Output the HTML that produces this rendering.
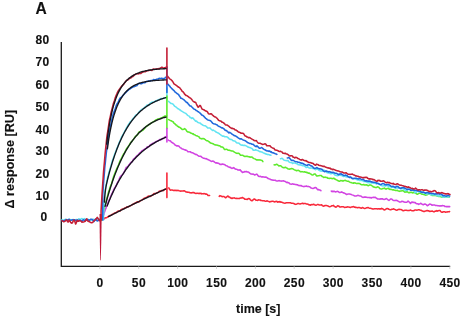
<!DOCTYPE html>
<html><head><meta charset="utf-8"><style>
html,body{margin:0;padding:0;background:#fff;}
svg{display:block;}
text{font-family:"Liberation Sans",Arial,sans-serif;font-weight:bold;fill:#111;stroke:#111;stroke-width:0.12px;}
</style></head><body>
<svg width="463" height="321" viewBox="0 0 463 321">
<rect width="463" height="321" fill="#fff"/>
<text x="35.6" y="13.6" font-size="15.6">A</text>
<g font-size="12" letter-spacing="0.4"><text x="49.7" y="44.10" text-anchor="end">80</text><text x="49.7" y="65.80" text-anchor="end">70</text><text x="49.7" y="88.50" text-anchor="end">60</text><text x="49.7" y="110.50" text-anchor="end">50</text><text x="49.7" y="133.50" text-anchor="end">40</text><text x="49.7" y="155.20" text-anchor="end">30</text><text x="49.7" y="178.05" text-anchor="end">20</text><text x="49.7" y="199.90" text-anchor="end">10</text><text x="47.7" y="221.45" text-anchor="end">0</text><text x="100.0" y="287" text-anchor="middle">0</text><text x="138.9" y="287" text-anchor="middle">50</text><text x="177.8" y="287" text-anchor="middle">100</text><text x="216.7" y="287" text-anchor="middle">150</text><text x="255.6" y="287" text-anchor="middle">200</text><text x="294.4" y="287" text-anchor="middle">250</text><text x="333.3" y="287" text-anchor="middle">300</text><text x="372.2" y="287" text-anchor="middle">350</text><text x="411.1" y="287" text-anchor="middle">400</text><text x="450.0" y="287" text-anchor="middle">450</text></g>
<text x="236" y="313.2" font-size="12.5">time [s]</text>
<text transform="translate(14.2 208.5) rotate(-90)" font-size="12.6">&#916; response [RU]</text>
<g stroke="#1a1a1a" stroke-width="1.3" fill="none"><path d="M61.3 42V266.3H450.2"/></g>
<g stroke="#bbb" stroke-width="0.6"><path d="M99.8 266V269"/><path d="M138.7 266V269"/><path d="M177.6 266V269"/><path d="M216.5 266V269"/><path d="M255.4 266V269"/><path d="M294.2 266V269"/><path d="M333.1 266V269"/><path d="M372.0 266V269"/><path d="M410.9 266V269"/><path d="M449.8 266V269"/></g>
<g stroke-linejoin="round" stroke-linecap="round">
<path d="M62 219.61L62.8 220.09L63.6 220.51L64.4 219.85L65.2 219.31L66 219.31L66.8 219.61L67.6 219.78L68.4 219.84L69.2 219.21L70 219.5L70.8 220.12L71.6 219.81L72.4 219.79L73.2 219.42L74 219.63L74.8 220.06L75.6 219.82L76.4 219.47L77.2 219.79L78 219.53L78.8 218.76L79.6 219.2L80.4 219.5L81.2 218.68L82 218.63L82.8 219.15L83.6 219.01L84.4 218.65L85.2 219.09L86 219.93L86.8 219.83L87.6 219.25L88.4 219.47L89.2 219.99L90 219.75L90.8 219.69L91.6 220.16L92.4 219.9L93.2 219.24L94 219.44L94.8 219.81L95.6 220.08L96.4 219.53L97.2 218.91L98 219.07L98.8 218.69L99.6 219.03L100.4 219.83L101.2 219.53" stroke="#62e4f2" stroke-width="1.55" fill="none"/>
<path d="M62 220.59L62.8 220.94L63.6 220.61L64.4 220.44L65.2 220.58L66 219.84L66.8 219.7L67.6 220.52L68.4 219.51L69.2 219.4L70 220.04L70.8 220.23L71.6 220.15L72.4 219.81L73.2 220.14L74 219.77L74.8 219.88L75.6 220.21L76.4 220.16L77.2 219.99L78 220.24L78.8 220.72L79.6 220.18L80.4 220.19L81.2 220.8L82 221.29L82.8 220.09L83.6 219.71L84.4 220.57L85.2 220.16L86 219.53L86.8 220.11L87.6 220L88.4 219.71L89.2 220.79L90 219.87L90.8 219.19L91.6 219.32L92.4 219.55L93.2 220.75L94 221.5L94.8 220.1L95.6 219L96.4 220.05L97.2 220.97L98 220.85L98.8 219.86L99.6 219.81L100.4 220.12L101.2 219.91" stroke="#2068dc" stroke-width="1.55" fill="none"/>
<path d="M62 220.78L62.8 221.05L63.6 221.79L64.4 221.45L65.2 221.08L66 220.23L66.8 220.05L67.6 221.81L68.4 222.02L69.2 220.15L70 221.23L70.8 222.62L71.6 223.17L72.4 222.83L73.2 221.02L74 219.95L74.8 221.21L75.6 224.05L76.4 222.54L77.2 220.26L78 221.26L78.8 221.13L79.6 220.52L80.4 220.86L81.2 221.19L82 222.21L82.8 222.09L83.6 221.97L84.4 221.65L85.2 221.23L86 220.02L86.8 218.76L87.6 220.84L88.4 221.45L89.2 221.29L90 222.09L90.8 222.62L91.6 222.81L92.4 222.59L93.2 221.94L94 220.7L94.8 220.13L95.6 219.75L96.4 218.41L97.2 217.41L98 218.31L98.8 219.97L99.6 220.74L100.4 219.6L101.2 219.88" stroke="#c41e36" stroke-width="1.55" fill="none"/>
<path d="M101.99 220L102 219.75L102.2 219.65L102.4 219.54L102.6 219.44L102.8 219.34L103 219.23L103.2 219.13L103.4 219.02L103.6 218.92L103.8 218.82L104 218.92L104.2 218.86L104.4 218.78L104.6 218.59L104.8 218.4L105 217.87L105.2 217.68L105.4 217.77L105.6 217.74L105.8 217.7L106 217.72L106.5 217.78L107 217.45L107.5 217.07L108 216.76L108.5 216.31L109 215.99L109.5 215.73L110 215.61L110.5 215.48L111 215.27L111.5 214.69L112 214.51L112.8 214.24L113.6 213.44L114.4 213.17L115.2 212.81L116 212.53L116.8 212.12L117.6 211.38L118.4 210.92L119.2 211.1L120 210.92L120.8 209.91L121.6 209.5L122.4 209.01L123.2 209.05L124 208.67L124.8 207.94L125.6 208.06L126.4 207.19L127.2 206.74L128 206.95L128.8 206.6L129.6 206.02L130.4 205.75L131.2 205.34L132 204.79L132.8 204.33L133.6 204.02L134.4 203.43L135.2 203.08L136 202.8L136.8 201.95L137.6 201.78L138.4 202.08L139.2 201.85L140 200.92L140.8 200.47L141.6 200.1L142.4 199.52L143.2 199.27L144 198.35L144.8 197.99L145.6 197.93L146.4 197.34L147.2 196.85L148 196.27L148.8 196.02L149.6 196.23L150.4 196.5L151.2 195.91L152 195.4L152.8 194.96L153.6 193.85L154.4 193.58L155.2 193.79L156 193.28L156.8 192.87L157.6 192.75L158.4 192.09L159.2 191.22L160 191.01L160.8 190.95L161.6 190.56L162.4 190.49L163.2 190.64L164 189.92L164.8 189.31L165.6 189.28L166.4 188.92L166.6 188.85" stroke="#f8283a" stroke-width="1.55" fill="none"/>
<path d="M168.8 187.87L169.6 189.37L170.4 190.16L171.2 190.08L172 189.89L172.8 190.16L173.6 190.54L174.4 190.36L175.2 190.55L176 190.25L176.8 190.65L177.6 190.36L178.4 190.49L179.2 190.79L180 191L180.8 191.12L181.6 191.08L182.4 190.99L183.2 190.91L184 190.69L184.8 190.98L185.6 191.75L186.4 192.08L187.2 192.14L188 192.21L188.8 192.22L189.6 192.62L190.4 192.65L191.2 192.89L192 192.83L192.8 192.62L193.6 192.47L194.4 192.83L195.2 193.3L196 193.52L196.8 193.32L197.6 193.21L198.4 193.46L199.2 193.3L200 193.6L200.8 193.22L201.6 193.85L202.4 193.74L203.2 193.85L204 193.54L204.8 193.68L205.6 194.23L206.4 194.09L207.2 194.39L208 195.4L208.8 195.46L209.6 195.54" stroke="#f8283a" stroke-width="1.55" fill="none"/>
<path d="M219.2 196.33L220 195.65L220.8 195.93L221.6 196.48L222.4 196.62L223.2 196.52L224 196.45L224.8 197.2L225.6 197.81L226.4 197.13L227.2 196.49L228 196.03L228.8 197L229.6 197.08L230.4 197.9L231.2 198.07L232 198.43L232.8 198.07L233.6 197.9L234.4 197.85L235.2 198.22L236 198.46L236.8 198.36L237.6 198.44L238.4 198.44L239.2 198.6L240 198.14L240.8 198.03L241.6 197.97L242.4 197.53L243.2 198.03L244 198.42L244.8 199.18L245.6 199.27L246.4 199.32L247.2 199.55L248 198.72L248.8 198.62L249.6 198.74L250.4 199.89L251.2 200.5L252 200.82L252.8 200.18L253.6 199.21L254.4 199.06L255.2 199.45L256 200.35L256.8 200.25L257.6 200.37L258.4 199.81L259.2 200.04L260 199.94L260.8 200.5L261.6 200.58L262.4 200.74L263.2 200.8L264 200.75L264.8 201.06L265.6 201.18L266.4 201.11L267.2 200.84L268 201.23L268.8 201.42L269.6 201.91L270.4 201.63L271.2 201.58L272 201.2L272.8 201.2L273.6 201.48L274.4 201.91L275.2 201.62L276 201.47L276.8 201.36L277.6 202.17L278.4 201.78L279.2 201.99L280 201.5L280.8 202.3L281.6 202.12L282.4 202.43L283.2 202.79L284 203.08L284.8 203.16L285.6 202.92L286.4 202.7L287.2 202.79L288 202.71L288.8 202.76L289.6 202.67L290.4 202.73L291.2 203.2L292 203.27L292.8 203.25L293.6 203.5L294.4 203.83L295.2 204.36L296 204.21L296.8 203.99L297.6 203.61L298.4 203.44L299.2 203.78L300 203.98L300.8 203.73L301.6 203.53L302.4 203.2L303.2 203.69L304 203.45L304.8 203.55L305.6 203.6L306.4 203.95L307.2 203.91L308 204.13L308.8 204.77L309.6 204.88L310.4 205.21L311.2 204.53L312 204.85L312.8 204.39L313.6 204.25L314.4 204.77L315.2 205L316 205.24L316.8 204.89L317.6 204.42L318.4 204.59L319.2 204.96L320 204.96L320.8 204.99L321.6 204.85L322.4 205.62L323.2 206.14L324 206.04L324.8 205.63L325.6 205.45L326.4 205.53L327.2 205.69L328 205.91L328.8 206.5L329.6 206.7L330.4 206.42L331.2 206.19L332 205.68L332.8 205.78L333.6 205.4L334.4 206.57L335.2 206.81L336 207.18L336.8 206.56L337.6 205.77L338.4 205.97L339.2 206.49L340 207.01L340.8 207.05L341.6 206.86L342.4 206.7L343.2 206.82L344 207.03L344.8 207.54L345.6 207.33L346.4 207.23L347.2 206.82L348 206.91L348.8 207.03L349.6 207.16L350.4 207.44L351.2 207.1L352 206.93L352.8 206.7L353.6 206.6L354.4 207.27L355.2 207.04L356 207.61L356.8 207.38L357.6 207.83L358.4 207.45L359.2 207.6L360 207.86L360.8 208.12L361.6 208.15L362.4 207.56L363.2 207.85L364 208.18L364.8 208.47L365.6 208.28L366.4 207.86L367.2 207.73L368 207.49L368.8 207.9L369.6 208.28L370.4 208.35L371.2 208.49L372 208.66L372.8 208.94L373.6 209.06L374.4 208.82L375.2 208.79L376 208.69L376.8 208.8L377.6 209.07L378.4 208.67L379.2 209.09L380 208.72L380.8 209.04L381.6 208.36L382.4 208.76L383.2 209.17L384 209.85L384.8 209.95L385.6 209.25L386.4 208.81L387.2 208.51L388 208.72L388.8 209.25L389.6 209.46L390.4 209.73L391.2 209.61L392 209.35L392.8 209.16L393.6 208.84L394.4 209.26L395.2 209.62L396 210.04L396.8 210.23L397.6 209.82L398.4 209.57L399.2 209.36L400 209.4L400.8 209.45L401.6 209.71L402.4 210.38L403.2 210.84L404 210.62L404.8 210.32L405.6 210.35L406.4 210.28L407.2 210.46L408 210.56L408.8 210.6L409.6 210.39L410.4 210.07L411.2 210.36L412 210.68L412.8 210.76L413.6 210.78L414.4 210.27L415.2 210.05L416 209.98L416.8 210.19L417.6 210.09L418.4 209.77L419.2 209.81L420 210.15L420.8 210.23L421.6 210.56L422.4 211.08L423.2 211.34L424 211.64L424.8 211.31L425.6 211.09L426.4 210.73L427.2 210.43L428 210.95L428.8 210.75L429.6 211.38L430.4 211.36L431.2 211.17L432 211.06L432.8 211.35L433.6 211.7L434.4 211.78L435.2 210.94L436 211.24L436.8 210.59L437.6 211.21L438.4 210.71L439.2 210.49L440 210.5L440.8 211.59L441.6 212.15L442.4 212.29L443.2 211.75L444 211.85L444.8 211.83L445.6 212.26L446.4 212.05L447.2 212.06L448 211.76L448.8 211.74L449.6 211.62" stroke="#f8283a" stroke-width="1.55" fill="none"/>
<path d="M101.86 220L101.87 220.1L102.07 219.47L102.27 218.85L102.47 218.23L102.67 217.62L102.87 217.02L103.07 216.41L103.27 215.82L103.47 215.22L103.67 214.63L103.87 214.59L104.07 213.34L104.27 212.16L104.47 212.21L104.67 211.81L104.87 211L105.07 210.41L105.27 209.77L105.47 209.17L105.67 209.07L105.87 208.59L106.37 206.82L106.87 205.71L107.37 204.74L107.87 203.17L108.37 201.61L108.87 200.69L109.37 199.62L109.87 198.61L110.37 197.19L110.87 195.99L111.37 194.89L111.87 193.84L112.67 192.17L113.47 190.2L114.27 188.58L115.07 187.23L115.87 186.24L116.67 184.51L117.47 182.54L118.27 181.58L119.07 179.58L119.87 177.41L120.67 176.3L121.47 175.4L122.27 175.02L123.07 173.91L123.87 172.39L124.67 171.06L125.47 169L126.27 167.36L127.07 167.13L127.87 166.68L128.67 165.07L129.47 164.28L130.27 163.23L131.07 162.27L131.87 162.06L132.67 160.67L133.47 159.14L134.27 158.67L135.07 157.81L135.87 156.98L136.67 156.15L137.47 155.34L138.27 154.88L139.07 153.82L139.87 152.84L140.67 152.29L141.47 151.34L142.27 150.53L143.07 150.23L143.87 149.81L144.67 148.96L145.47 148.6L146.27 148.23L147.07 146.93L147.87 146.77L148.67 146.9L149.47 145.96L150.27 144.8L151.07 144.32L151.87 143.86L152.67 143.28L153.47 143.36L154.27 143.06L155.07 142.24L155.87 141.78L156.67 141.29L157.47 140.98L158.27 140.79L159.07 140.09L159.87 139.49L160.67 139.79L161.47 139.49L162.27 138.48L163.07 138.52L163.87 138.21L164.67 137.09L165.47 136.92L166.27 136.64L166.6 136.21" stroke="#d244e2" stroke-width="1.55" fill="none"/>
<path d="M168.1 140.09L168.9 140.4L169.7 140.68L170.5 141.06L171.3 142.06L172.1 142.51L172.9 142.99L173.7 143.7L174.5 144.21L175.3 145.21L176.1 145.48L176.9 146.04L177.7 145.73L178.5 145.95L179.3 146.6L180.1 147.65L180.9 147.98L181.7 148.54L182.5 149.07L183.3 149.19L184.1 149.66L184.9 149.74L185.7 150.27L186.5 150.21L187.3 151.05L188.1 151.84L188.9 151.84L189.7 151.75L190.5 151.83L191.3 152.62L192.1 152.84L192.9 152.86L193.7 153.49L194.5 153.74L195.3 154.37L196.1 154.34L196.9 154.75L197.7 155.38L198.5 155.98L199.3 156.33L200.1 156.23L200.9 156.34L201.7 157.1L202.5 157.7L203.3 158.21L204.1 158.19L204.9 158.41L205.7 158.73L206.5 158.65L207.3 159.44L208.1 159.49L208.9 160.13L209.7 160.36L210.5 160.93L211.3 161.39L212.1 161.18L212.9 161.02L213.7 161.35L214.5 162.1L215.3 162.56L216.1 163.15L216.9 162.83L217.7 163.16L218.5 163.22L219.3 163.79L220.1 164.44L220.9 164.39L221.7 164.39L222.5 164L223.3 164.15L224.1 164.41L224.9 164.79L225.7 165.45L226.5 165.82L227.3 165.93L228.1 166.76L228.9 166.97L229.7 167.42L230.5 167.35L231.3 168.12L232.1 168.4L232.9 167.95L233.7 167.63L234.5 168.47L235.3 169.02L236.1 169.31L236.9 169.26L237.7 169.89L238.5 169.98L239.3 170.13L240.1 169.69L240.9 170.85L241.7 171.66L242.5 172.5L243.3 172.14L244.1 172.07L244.9 171.5L245.7 171.84L246.5 171.55L247.3 171.97L248.1 171.94L248.9 172.42L249.7 173.14L250.5 173.73L251.3 174.11L252.1 173.93L252.9 174.14L253.7 174.26L254.5 175.03L255.3 174.83L256.1 174.36L256.9 174.14L257.7 175.15L258.5 176.2L259.3 176.48L260.1 176.36L260.9 176.58L261.7 176.95L262.5 176.8L263.3 176.89L264.1 177.03L264.9 177.19L265.7 177.09L266.5 177.27L267.3 177.89L268.1 178.55L268.9 178.84L269.7 178.91L270.5 179.61L271.3 179.75L272.1 180.08L272.9 180.11L273.7 180.25L274.5 180.24L275.3 180.19L276.1 180.8L276.9 181.01L277.7 181.02L278.5 180.79L279.3 180.58L280.1 180.96L280.9 181.06L281.7 181.11L282.5 180.96L283.3 180.76L284.1 181.13L284.9 181.35L285.7 181.74L286.5 182.46L287.3 182.25L288.1 182.74L288.9 182.78L289.7 183.72L290.5 184.06L291.3 184.16L292.1 183.97L292.9 183.89L293.7 184.3L294.5 184.27L295.3 184.6L296.1 184.45L296.9 184.85L297.7 184.81L298.5 185.56L299.3 185.49L300.1 185.79L300.9 185.47L301.7 185.97L302.5 186.18L303.3 186.38L304.1 186.64L304.9 186.3L305.7 186.35L306.5 185.94L307.3 186.55L308.1 186.4L308.9 186.62L309.7 186.71L310.5 187.53L311.3 188.09L312.1 188.34L312.9 188.49L313.7 188.25L314.5 187.79L315.3 187.46L316.1 187.79L316.9 188.8L317.7 189.62L318.5 189.5L319.3 189.97L320.1 189.97L320.9 190.68" stroke="#d244e2" stroke-width="1.55" fill="none"/>
<path d="M331.3 191.09L332.1 191.74L332.9 191.12L333.7 191.62L334.5 191.31L335.3 191.87L336.1 191.75L336.9 191.53L337.7 191.36L338.5 191.69L339.3 192.55L340.1 192.59L340.9 192.16L341.7 191.9L342.5 192.36L343.3 192.88L344.1 193.03L344.9 193.43L345.7 193.98L346.5 194.51L347.3 194.18L348.1 194.07L348.9 193.96L349.7 193.96L350.5 194.29L351.3 194.49L352.1 194.87L352.9 195.13L353.7 195.43L354.5 195.9L355.3 195.97L356.1 196.08L356.9 195.65L357.7 195.36L358.5 195.56L359.3 195.81L360.1 196.04L360.9 196L361.7 196.7L362.5 197.14L363.3 197.39L364.1 197.09L364.9 197.11L365.7 197.13L366.5 197.25L367.3 197.48L368.1 197.59L368.9 197.55L369.7 197.64L370.5 197.56L371.3 198.02L372.1 197.41L372.9 197.59L373.7 197.3L374.5 197.55L375.3 197.17L376.1 198.09L376.9 198.41L377.7 199.08L378.5 198.92L379.3 199.04L380.1 199.22L380.9 198.69L381.7 198.88L382.5 198.74L383.3 199.33L384.1 199.43L384.9 199.29L385.7 198.78L386.5 198.58L387.3 199.23L388.1 199.93L388.9 200.4L389.7 199.79L390.5 199.08L391.3 198.92L392.1 199.46L392.9 200.1L393.7 200.46L394.5 200.6L395.3 200.55L396.1 200.33L396.9 200.51L397.7 200.94L398.5 201.24L399.3 201.9L400.1 201.91L400.9 202.05L401.7 201.3L402.5 201.38L403.3 201.58L404.1 202.08L404.9 202.23L405.7 202.29L406.5 202.25L407.3 201.9L408.1 201.04L408.9 201.72L409.7 202.51L410.5 203.44L411.3 202.48L412.1 202.03L412.9 202.49L413.7 202.31L414.5 202.64L415.3 202.61L416.1 203.46L416.9 203.83L417.7 203.66L418.5 204.34L419.3 203.96L420.1 203.73L420.9 203.27L421.7 203.99L422.5 204.42L423.3 204.71L424.1 204.29L424.9 204.08L425.7 204.26L426.5 204.89L427.3 205.68L428.1 205.29L428.9 204.66L429.7 204.05L430.5 204.19L431.3 204.72L432.1 205.24L432.9 205.01L433.7 204.99L434.5 204.94L435.3 205.42L436.1 205.45L436.9 205.47L437.7 205.68L438.5 205.8L439.3 205.99L440.1 205.74L440.9 205.89L441.7 205.88L442.5 205.59L443.3 205.69L444.1 205.73L444.9 206.6L445.7 206.51L446.5 206.63L447.3 206.52L448.1 206.64L448.9 206.62L449.7 206.64" stroke="#d244e2" stroke-width="1.55" fill="none"/>
<path d="M101.39 220L101.4 220.4L101.6 219.5L101.8 218.61L102 217.73L102.2 216.86L102.4 215.99L102.6 215.13L102.8 214.27L103 213.43L103.2 212.59L103.4 212.22L103.6 210.73L103.8 210.07L104 209.07L104.2 208.42L104.4 208.12L104.6 207.08L104.8 205.75L105 205.32L105.2 204.86L105.4 204.4L105.9 202.62L106.4 200.33L106.9 198.17L107.4 196.38L107.9 194.67L108.4 192.56L108.9 190.93L109.4 189.57L109.9 187.9L110.4 186.25L110.9 185.17L111.4 183.93L112.2 181.37L113 178.75L113.8 176.04L114.6 173.96L115.4 172.19L116.2 170.15L117 168.08L117.8 166.51L118.6 164.79L119.4 162.53L120.2 160.63L121 159.04L121.8 157.57L122.6 155.88L123.4 154.27L124.2 153.26L125 151.89L125.8 150.11L126.6 148.61L127.4 147.57L128.2 146.59L129 145.55L129.8 144.22L130.6 142.55L131.4 141.83L132.2 141.16L133 139.87L133.8 138.87L134.6 137.54L135.4 136.44L136.2 135.84L137 135.29L137.8 134.39L138.6 132.53L139.4 131.65L140.2 131.72L141 131.35L141.8 130.7L142.6 130.29L143.4 129.78L144.2 128.83L145 128.06L145.8 126.76L146.6 126.13L147.4 126.03L148.2 125.12L149 124.56L149.8 124.26L150.6 123.48L151.4 122.84L152.2 122.4L153 122.02L153.8 121.52L154.6 121.15L155.4 120.35L156.2 119.72L157 119.38L157.8 118.93L158.6 119.1L159.4 118.85L160.2 118.34L161 118L161.8 118.08L162.6 117.46L163.4 116.97L164.2 116.56L165 115.93L165.8 116.05L166.6 115.68" stroke="#5eea2c" stroke-width="1.55" fill="none"/>
<path d="M168.5 119.62L169.3 119.89L170.1 120.39L170.9 120.66L171.7 121.03L172.5 121.55L173.3 121.98L174.1 123.37L174.9 123.73L175.7 124.9L176.5 124.93L177.3 126.18L178.1 126.38L178.9 127.14L179.7 127.34L180.5 127.92L181.3 128.65L182.1 129.38L182.9 129.52L183.7 129.3L184.5 128.62L185.3 129.07L186.1 130.05L186.9 131.29L187.7 131.87L188.5 132.02L189.3 132.19L190.1 132.52L190.9 133.14L191.7 133.28L192.5 133.96L193.3 133.89L194.1 134.72L194.9 134.78L195.7 135.47L196.5 135.64L197.3 135.9L198.1 136.33L198.9 136.71L199.7 138.04L200.5 138.37L201.3 138.86L202.1 138.46L202.9 138.66L203.7 138.57L204.5 139.01L205.3 139.74L206.1 140.35L206.9 140.78L207.7 140.74L208.5 141.47L209.3 141.92L210.1 142.71L210.9 143.18L211.7 143.24L212.5 143.69L213.3 143.8L214.1 144.41L214.9 144.7L215.7 145.07L216.5 144.97L217.3 145.28L218.1 145.39L218.9 145.82L219.7 145.69L220.5 146.52L221.3 147.02L222.1 147.04L222.9 147.33L223.7 148.22L224.5 149.58L225.3 149.55L226.1 149.33L226.9 149.3L227.7 149.98L228.5 150.27L229.3 150.15L230.1 150.41L230.9 150.85L231.7 151.09L232.5 151.08L233.3 151.28L234.1 151.92L234.9 152.43L235.7 152.85L236.5 153.28L237.3 153.39L238.1 153.11L238.9 153.41L239.7 154.08L240.5 155.22L241.3 155.32L242.1 155.22L242.9 155.36L243.7 156.01L244.5 156.37L245.3 156.45L246.1 156.14L246.9 156.47L247.7 156.33L248.5 156.75L249.3 156.83L250.1 157.18L250.9 156.92L251.7 157L252.5 157.46L253.3 158.24L254.1 158.61L254.9 158.88L255.7 159.33L256.5 159.9L257.3 159.82L258.1 159.9L258.9 159.83L259.7 160.06L260.5 159.91L261.3 160.21L262.1 160.45L262.9 161.64" stroke="#5eea2c" stroke-width="1.55" fill="none"/>
<path d="M274.1 164.85L274.9 165.03L275.7 164.6L276.5 164.28L277.3 164.52L278.1 165.27L278.9 166.05L279.7 165.81L280.5 165.79L281.3 166.15L282.1 167.11L282.9 167.49L283.7 167.61L284.5 167.67L285.3 167.17L286.1 167.74L286.9 167.9L287.7 168.86L288.5 169.05L289.3 169.14L290.1 169.02L290.9 168.72L291.7 168.47L292.5 168.67L293.3 169.14L294.1 169.6L294.9 170.02L295.7 170.21L296.5 170.81L297.3 170.62L298.1 170.33L298.9 170.62L299.7 171.17L300.5 171.8L301.3 171.68L302.1 171.64L302.9 171.83L303.7 172L304.5 171.74L305.3 172.17L306.1 172.1L306.9 172.73L307.7 172.63L308.5 173.28L309.3 173.13L310.1 173.71L310.9 174L311.7 174.81L312.5 175.01L313.3 174.81L314.1 173.98L314.9 173.92L315.7 174.65L316.5 175.95L317.3 175.9L318.1 175.72L318.9 175.67L319.7 175.52L320.5 175.55L321.3 175.48L322.1 176.54L322.9 176.72L323.7 177.47L324.5 177.24L325.3 177.14L326.1 177.48L326.9 177.4L327.7 178.17L328.5 178.21L329.3 178.49L330.1 178.18L330.9 178.18L331.7 178.5L332.5 178.67L333.3 178.28L334.1 178.33L334.9 179.07L335.7 179.44L336.5 179.87L337.3 180.21L338.1 180.78L338.9 181.15L339.7 181.2L340.5 180.61L341.3 180.72L342.1 180.64L342.9 181.19L343.7 180.74L344.5 180.4L345.3 180.31L346.1 180.74L346.9 181L347.7 181.23L348.5 181.23L349.3 181.87L350.1 182.16L350.9 182.43L351.7 182.76L352.5 182.9L353.3 183.25L354.1 182.78L354.9 183.1L355.7 183.12L356.5 183.59L357.3 183.53L358.1 183.38L358.9 183.41L359.7 183.55L360.5 184.24L361.3 184.7L362.1 184.65L362.9 184.69L363.7 184.47L364.5 185.05L365.3 184.9L366.1 184.79L366.9 185.07L367.7 185.46L368.5 185.66L369.3 185.05L370.1 184.93L370.9 185.08L371.7 185.62L372.5 186.06L373.3 186.88L374.1 187.02L374.9 187.36L375.7 187.41L376.5 187.53L377.3 186.87L378.1 186.93L378.9 187.33L379.7 188.51L380.5 188.79L381.3 188.97L382.1 188.93L382.9 188.42L383.7 188.4L384.5 188.02L385.3 188.88L386.1 189.1L386.9 188.51L387.7 188.54L388.5 188.29L389.3 189.41L390.1 189.06L390.9 189.49L391.7 189.58L392.5 189.88L393.3 189.69L394.1 190.02L394.9 190.2L395.7 190.56L396.5 190.51L397.3 190.39L398.1 191.01L398.9 191L399.7 191.36L400.5 191.08L401.3 190.91L402.1 190.63L402.9 190.71L403.7 191.16L404.5 191.94L405.3 192.12L406.1 191.86L406.9 191.77L407.7 191.98L408.5 192.64L409.3 192.71L410.1 192.29L410.9 192.45L411.7 192.29L412.5 192.87L413.3 192.27L414.1 192.77L414.9 192.53L415.7 193.34L416.5 193.71L417.3 194.33L418.1 193.86L418.9 193.26L419.7 192.84L420.5 193.43L421.3 193.88L422.1 194.25L422.9 194.27L423.7 194.44L424.5 194.68L425.3 195.14L426.1 195.08L426.9 195.07L427.7 194.26L428.5 194.04L429.3 193.91L430.1 194.19L430.9 194.69L431.7 195.25L432.5 195.55L433.3 195.47L434.1 195.17L434.9 195.42L435.7 195.5L436.5 195.85L437.3 196L438.1 196.33L438.9 196.52L439.7 196.55L440.5 196.6L441.3 196.95L442.1 197.03L442.9 197.3L443.7 196.96L444.5 196.95L445.3 196.72L446.1 196.59L446.9 196.81L447.7 196.87L448.5 197.07L449.3 197.16" stroke="#5eea2c" stroke-width="1.55" fill="none"/>
<path d="M103.51 220L103.52 217L103.72 210.72L103.92 205.78L104.12 201.85L104.32 198.69L104.52 196.09L104.72 193.93L104.92 192.09L105.12 190.5L105.32 189.09L105.52 188.09L105.72 186.59L105.92 185.09L106.12 184.47L106.32 183.93L106.52 182.8L106.72 181.66L106.92 180.8L107.12 179.96L107.32 178.92L107.52 177.8L108.02 176.1L108.52 174.1L109.02 172.01L109.52 170.45L110.02 168.65L110.52 167.13L111.02 165.58L111.52 163.84L112.02 162.07L112.52 160.32L113.02 159.14L113.52 157.9L114.32 155.29L115.12 153.01L115.92 150.98L116.72 148.81L117.52 147.11L118.32 145L119.12 142.8L119.92 141.17L120.72 139.24L121.52 137.14L122.32 135.72L123.12 134.48L123.92 132.79L124.72 131.25L125.52 129.82L126.32 128.22L127.12 126.95L127.92 125.45L128.72 124.13L129.52 123.02L130.32 121.79L131.12 121.23L131.92 120.18L132.72 118.85L133.52 118.05L134.32 117.14L135.12 115.98L135.92 115.06L136.72 114.67L137.52 114.1L138.32 113.04L139.12 111.81L139.92 111.1L140.72 110.35L141.52 109.62L142.32 109L143.12 108.72L143.92 107.95L144.72 107.17L145.52 107.2L146.32 105.9L147.12 105.1L147.92 105.38L148.72 105.22L149.52 103.97L150.32 103.09L151.12 102.76L151.92 102.2L152.72 101.91L153.52 102.21L154.32 102.02L155.12 101.13L155.92 100.65L156.72 100.52L157.52 100.43L158.32 99.72L159.12 99.59L159.92 99.25L160.72 98.53L161.52 98.62L162.32 98.84L163.12 98.38L163.92 97.78L164.72 97.94L165.52 97.79L166.32 97.52L166.6 97.54" stroke="#62e4f2" stroke-width="1.55" fill="none"/>
<path d="M168.5 101.21L169.3 102.09L170.1 102.66L170.9 103.56L171.7 103.45L172.5 103.85L173.3 104.44L174.1 105.69L174.9 106.38L175.7 106.72L176.5 107.5L177.3 108.13L178.1 108.83L178.9 109.11L179.7 109.82L180.5 110.19L181.3 111.09L182.1 111.4L182.9 111.9L183.7 112.35L184.5 112.88L185.3 113.13L186.1 113.66L186.9 114.52L187.7 115.44L188.5 115.87L189.3 116.15L190.1 117.48L190.9 117.72L191.7 118.38L192.5 117.78L193.3 118.44L194.1 119.46L194.9 120.35L195.7 121.11L196.5 121.09L197.3 122.06L198.1 122.44L198.9 122.73L199.7 122.94L200.5 123.29L201.3 124.25L202.1 124.56L202.9 125.2L203.7 125.55L204.5 125.74L205.3 125.74L206.1 126.42L206.9 127.08L207.7 127.99L208.5 128.07L209.3 128.02L210.1 128.06L210.9 128.98L211.7 129.74L212.5 130.41L213.3 130.09L214.1 130.59L214.9 131.01L215.7 131.76L216.5 132.3L217.3 132.64L218.1 132.97L218.9 133.39L219.7 134.05L220.5 134.56L221.3 135.42L222.1 135.79L222.9 136.27L223.7 136.04L224.5 136.64L225.3 136.72L226.1 136.86L226.9 136.72L227.7 137.53L228.5 138.03L229.3 139L230.1 139.21L230.9 139.48L231.7 139.46L232.5 140.29L233.3 140.83L234.1 140.91L234.9 140.94L235.7 141.86L236.5 142.82L237.3 142.96L238.1 143.02L238.9 143.19L239.7 143.92L240.5 144.78L241.3 145.01L242.1 145.38L242.9 145.07L243.7 145.59L244.5 145.35L245.3 145.57L246.1 145.86L246.9 146.2L247.7 146.95L248.5 147.03L249.3 147.6L250.1 147.67L250.9 148.05L251.7 148.38L252.5 149L253.3 150.21L254.1 150.18L254.9 150.29L255.7 149.74L256.5 150.12L257.3 150.42L258.1 150.54L258.9 151.06L259.7 151.61L260.5 151.61L261.3 152L262.1 152.09L262.9 152.66L263.7 153.02L264.5 153.29L265.3 153.74L266.1 154.2L266.9 154.06L267.7 154.6L268.5 154.51L269.3 154.86L270.1 154.92L270.9 155.17" stroke="#62e4f2" stroke-width="1.55" fill="none"/>
<path d="M280.5 158.7L281.3 158.49L282.1 158.25L282.9 159.04L283.7 159.86L284.5 160.29L285.3 160.44L286.1 160.44L286.9 160.73L287.7 160.43L288.5 161.18L289.3 162.13L290.1 162.44L290.9 162.46L291.7 162.45L292.5 163.49L293.3 163.04L294.1 163.06L294.9 162.92L295.7 163.4L296.5 163.71L297.3 163.83L298.1 164.64L298.9 164.62L299.7 164.91L300.5 164.8L301.3 165.34L302.1 165.51L302.9 165.8L303.7 165.5L304.5 166.12L305.3 166.73L306.1 167.55L306.9 167.18L307.7 167.03L308.5 167.46L309.3 168.05L310.1 168.14L310.9 167.94L311.7 168L312.5 168.39L313.3 168.36L314.1 168.86L314.9 169.29L315.7 169.7L316.5 169.18L317.3 169.09L318.1 169.35L318.9 170.2L319.7 170.47L320.5 170.97L321.3 170.99L322.1 171.11L322.9 170.3L323.7 170.17L324.5 170.18L325.3 171.08L326.1 171.68L326.9 172.63L327.7 172.87L328.5 172.69L329.3 173.14L330.1 173.43L330.9 173.86L331.7 173.38L332.5 173.15L333.3 173.59L334.1 173.95L334.9 174.91L335.7 175.23L336.5 175.56L337.3 175.67L338.1 175.5L338.9 175.35L339.7 175.21L340.5 175.15L341.3 175.42L342.1 175.54L342.9 176.23L343.7 176.46L344.5 176.24L345.3 176.26L346.1 176.82L346.9 177.03L347.7 177.01L348.5 176.83L349.3 177.15L350.1 177.39L350.9 177.59L351.7 177.77L352.5 178.18L353.3 178.45L354.1 178.65L354.9 178.76L355.7 179.11L356.5 179.58L357.3 179.87L358.1 179.93L358.9 180.09L359.7 180.42L360.5 180.53L361.3 180.51L362.1 180.56L362.9 180.87L363.7 181.51L364.5 181.38L365.3 181.45L366.1 181.77L366.9 182.17L367.7 182.53L368.5 182.69L369.3 182.79L370.1 182.82L370.9 182.58L371.7 183.04L372.5 183.01L373.3 183.12L374.1 183L374.9 183.17L375.7 183.58L376.5 183.88L377.3 183.76L378.1 183.66L378.9 183.8L379.7 184.39L380.5 184.75L381.3 185.5L382.1 185.83L382.9 185.95L383.7 185.62L384.5 185.84L385.3 186.12L386.1 185.64L386.9 185.47L387.7 185.55L388.5 186.72L389.3 186.38L390.1 186.93L390.9 186.49L391.7 187.37L392.5 187.05L393.3 187.3L394.1 187.5L394.9 187.76L395.7 188.14L396.5 187.98L397.3 188.01L398.1 187.84L398.9 187.88L399.7 188.11L400.5 188.67L401.3 188.65L402.1 188.41L402.9 188.2L403.7 189.09L404.5 189.95L405.3 190.45L406.1 190.49L406.9 190.17L407.7 190.01L408.5 189.14L409.3 189.32L410.1 189.6L410.9 190.04L411.7 189.81L412.5 189.46L413.3 190.07L414.1 191.05L414.9 192.21L415.7 192.67L416.5 192.12L417.3 190.99L418.1 190.8L418.9 191.62L419.7 191.95L420.5 191.92L421.3 191.67L422.1 192.24L422.9 192.47L423.7 192.87L424.5 193.28L425.3 193.49L426.1 193.69L426.9 194.07L427.7 193.93L428.5 193.6L429.3 193.36L430.1 194.25L430.9 194.7L431.7 194.99L432.5 194.57L433.3 194.9L434.1 194.6L434.9 194.99L435.7 194.99L436.5 195.39L437.3 195.71L438.1 196.03L438.9 195.9L439.7 195.91L440.5 195.33L441.3 195.88L442.1 196.5L442.9 197.21L443.7 197.22L444.5 196.66L445.3 196.87L446.1 196.76L446.9 197.05L447.7 196.9L448.5 197.04L449.3 196.97" stroke="#62e4f2" stroke-width="1.55" fill="none"/>
<path d="M102.72 220L102.73 194.95L102.93 191.95L103.13 189.04L103.33 186.22L103.53 183.49L103.73 180.84L103.93 178.27L104.13 175.78L104.33 173.36L104.53 171.01L104.73 167.85L104.93 165.84L105.13 164.49L105.33 162.69L105.53 160.43L105.73 158.16L105.93 156.54L106.13 154.69L106.33 152.74L106.53 151.15L106.73 149.28L107.23 145.61L107.73 141.92L108.23 138.08L108.73 135.01L109.23 131.84L109.73 129.27L110.23 127.1L110.73 124.9L111.23 122.54L111.73 119.96L112.23 118.05L112.73 115.96L113.53 113.05L114.33 111.09L115.13 109L115.93 106.58L116.73 104.25L117.53 103.29L118.33 102.02L119.13 99.81L119.93 98.36L120.73 97.6L121.53 97.11L122.33 96.11L123.13 95.18L123.93 94.37L124.73 93.39L125.53 92.82L126.33 91.9L127.13 91.06L127.93 90.44L128.73 89.61L129.53 89.31L130.33 88.74L131.13 88.09L131.93 87.62L132.73 87.12L133.53 86.75L134.33 86.62L135.13 86.37L135.93 85.74L136.73 85.76L137.53 84.67L138.33 83.65L139.13 83.36L139.93 83.32L140.73 83.8L141.53 83.67L142.33 83.34L143.13 82.7L143.93 82.8L144.73 82.84L145.53 82.09L146.33 81.5L147.13 81.44L147.93 81.37L148.73 80.94L149.53 80.91L150.33 80.87L151.13 80.42L151.93 80.49L152.73 80.26L153.53 79.49L154.33 79.64L155.13 79.78L155.93 79.56L156.73 79.27L157.53 79.11L158.33 78.92L159.13 78.36L159.93 78.54L160.73 78.56L161.53 78.19L162.33 78.5L163.13 78.43L163.93 78.81L164.73 78.34L165.53 77.36L166.33 77.62L166.6 78.11" stroke="#2068dc" stroke-width="1.55" fill="none"/>
<path d="M168.1 84.22L168.9 85.38L169.7 86.06L170.5 87.23L171.3 87.99L172.1 88.89L172.9 89.64L173.7 90.35L174.5 91.27L175.3 92.26L176.1 92.68L176.9 93.48L177.7 93.9L178.5 94.51L179.3 95.75L180.1 96.91L180.9 98.29L181.7 98.33L182.5 98.93L183.3 99.36L184.1 99.97L184.9 100.83L185.7 101.4L186.5 102.41L187.3 102.57L188.1 103.7L188.9 104.63L189.7 105.8L190.5 105.98L191.3 106.3L192.1 107.18L192.9 107.99L193.7 108.85L194.5 109.21L195.3 109.62L196.1 110.58L196.9 110.65L197.7 111.61L198.5 111.81L199.3 112.51L200.1 113.14L200.9 113.9L201.7 114.92L202.5 115.21L203.3 115.77L204.1 116.63L204.9 117.47L205.7 118.37L206.5 118.87L207.3 119.57L208.1 120.04L208.9 120.19L209.7 120.4L210.5 120.72L211.3 121.56L212.1 122.62L212.9 123.31L213.7 123.75L214.5 123.93L215.3 124.08L216.1 124.45L216.9 124.79L217.7 125.6L218.5 126.07L219.3 126.59L220.1 126.89L220.9 127.37L221.7 127.89L222.5 127.76L223.3 128.47L224.1 128.93L224.9 130.02L225.7 130.49L226.5 130.55L227.3 131.59L228.1 131.99L228.9 132.98L229.7 132.35L230.5 132.92L231.3 133.44L232.1 134.25L232.9 134.6L233.7 135.27L234.5 135.71L235.3 135.85L236.1 136.29L236.9 136.88L237.7 137.49L238.5 138.16L239.3 138.55L240.1 138.96L240.9 138.84L241.7 139.1L242.5 139.61L243.3 139.98L244.1 140.31L244.9 140.58L245.7 141.01L246.5 141.67L247.3 142.27L248.1 142.78L248.9 143.12L249.7 143.48L250.5 143.55L251.3 143.8L252.1 144.3L252.9 144.25L253.7 144.78L254.5 145.7L255.3 146.09L256.1 146.74L256.9 145.82L257.7 146.74L258.5 147.12L259.3 148.31L260.1 148.33L260.9 147.91L261.7 147.49L262.5 148.25L263.3 148.82L264.1 149.54L264.9 149.75L265.7 150.29L266.5 150.76L267.3 151.05L268.1 150.85L268.9 151.42L269.7 150.99L270.5 152.05L271.3 151.84L272.1 152.82L272.9 152.68L273.7 153.05L274.5 153.41L275.3 153.78L276.1 153.9L276.9 154.44" stroke="#2068dc" stroke-width="1.55" fill="none"/>
<path d="M287.3 157.93L288.1 157.79L288.9 157.6L289.7 158.29L290.5 159.38L291.3 160.25L292.1 160.53L292.9 160.31L293.7 160.61L294.5 161.08L295.3 161.49L296.1 161.83L296.9 161.7L297.7 162.2L298.5 162.32L299.3 162.29L300.1 162.89L300.9 162.83L301.7 163.45L302.5 163.2L303.3 163.8L304.1 164.2L304.9 164.59L305.7 165.09L306.5 165.3L307.3 165.44L308.1 164.58L308.9 164.68L309.7 164.96L310.5 165.72L311.3 165.82L312.1 166.29L312.9 167.03L313.7 167.99L314.5 168.37L315.3 168.16L316.1 167.97L316.9 167.56L317.7 168.17L318.5 168.43L319.3 168.86L320.1 168.87L320.9 168.94L321.7 169.17L322.5 169.77L323.3 170.87L324.1 171.47L324.9 171.63L325.7 171.09L326.5 171.01L327.3 171.53L328.1 171.61L328.9 172.03L329.7 171.65L330.5 172.11L331.3 172.22L332.1 172.62L332.9 172.35L333.7 172.55L334.5 172.97L335.3 173.24L336.1 173.31L336.9 173.52L337.7 174.1L338.5 174.76L339.3 174.03L340.1 174.17L340.9 173.77L341.7 174.19L342.5 174.47L343.3 175.31L344.1 175.48L344.9 175.29L345.7 175.03L346.5 175.59L347.3 175.73L348.1 176.67L348.9 177.05L349.7 177.5L350.5 176.97L351.3 177.62L352.1 178.49L352.9 178.69L353.7 178.36L354.5 178.3L355.3 178.31L356.1 178.26L356.9 178.47L357.7 178.78L358.5 179.01L359.3 178.49L360.1 178.66L360.9 179.14L361.7 179.46L362.5 179.5L363.3 179.34L364.1 180.2L364.9 180.76L365.7 180.96L366.5 180.72L367.3 180.96L368.1 181.32L368.9 180.99L369.7 181.12L370.5 181.21L371.3 182.08L372.1 181.82L372.9 182.32L373.7 182.15L374.5 182.23L375.3 182.47L376.1 182.64L376.9 183.35L377.7 183.13L378.5 183.72L379.3 184.08L380.1 184.58L380.9 184.65L381.7 184.1L382.5 183.53L383.3 183.56L384.1 183.9L384.9 184.63L385.7 184.78L386.5 184.82L387.3 184.59L388.1 184.41L388.9 184.71L389.7 185.09L390.5 185.72L391.3 186.46L392.1 186.42L392.9 186.25L393.7 186.46L394.5 187.11L395.3 187.47L396.1 186.61L396.9 186.26L397.7 186.4L398.5 187.01L399.3 187.95L400.1 188.08L400.9 188.46L401.7 187.8L402.5 187.66L403.3 187.56L404.1 187.83L404.9 188.19L405.7 188.61L406.5 188.99L407.3 189.46L408.1 189.15L408.9 189.29L409.7 189.23L410.5 190.15L411.3 190.18L412.1 190.35L412.9 189.86L413.7 190.17L414.5 190.33L415.3 190.52L416.1 190.44L416.9 190.46L417.7 190.92L418.5 190.87L419.3 191.25L420.1 191.15L420.9 192.09L421.7 192.38L422.5 192.5L423.3 191.97L424.1 192.37L424.9 192.77L425.7 193.22L426.5 192.6L427.3 192.53L428.1 192.73L428.9 193.14L429.7 193.09L430.5 193.33L431.3 193.38L432.1 193.48L432.9 193.55L433.7 193.55L434.5 194.13L435.3 193.86L436.1 194.12L436.9 193.62L437.7 193.99L438.5 193.62L439.3 194.22L440.1 193.58L440.9 194.09L441.7 194.36L442.5 195.28L443.3 195.73L444.1 195.39L444.9 195.79L445.7 196.02L446.5 196.11L447.3 195.62L448.1 195.17L448.9 195.6L449.7 195.92" stroke="#2068dc" stroke-width="1.55" fill="none"/>
<path d="M101.07 220L101.08 210.95L101.28 207.25L101.48 203.66L101.68 200.17L101.88 196.79L102.08 193.51L102.28 190.33L102.48 187.24L102.68 184.24L102.88 181.33L103.08 179L103.28 175.84L103.48 172.57L103.68 169.97L103.88 168.02L104.08 165.66L104.28 163.58L104.48 161.41L104.68 158.79L104.88 156.66L105.08 154.28L105.58 149.15L106.08 144.56L106.58 139.67L107.08 135.37L107.58 132.38L108.08 129.22L108.58 125.74L109.08 122.44L109.58 119.48L110.08 117.39L110.58 115.08L111.08 112.44L111.88 109.39L112.68 106.43L113.48 103.19L114.28 100.99L115.08 98.37L115.88 96.16L116.68 94.44L117.48 92.39L118.28 90.93L119.08 89.73L119.88 88.61L120.68 87.44L121.48 86.34L122.28 85.58L123.08 84.99L123.88 83.93L124.68 82.86L125.48 81.81L126.28 80.62L127.08 80.18L127.88 79.82L128.68 79.29L129.48 78.25L130.28 78.17L131.08 77.8L131.88 76.65L132.68 76.76L133.48 75.97L134.28 75.17L135.08 74.61L135.88 74.01L136.68 73.67L137.48 73.7L138.28 73.92L139.08 73.5L139.88 73.43L140.68 73.56L141.48 72.96L142.28 72.29L143.08 71.96L143.88 71.65L144.68 71.8L145.48 71.73L146.28 71.1L147.08 70.76L147.88 70.77L148.68 70.52L149.48 70.27L150.28 70.16L151.08 70.24L151.88 70.36L152.68 69.49L153.48 69L154.28 69.37L155.08 69.14L155.88 69.01L156.68 69.06L157.48 68.87L158.28 68.63L159.08 68.42L159.88 68.44L160.68 67.87L161.48 67.39L162.28 67.39L163.08 67.92L163.88 68.14L164.68 67.71L165.48 67.58L166.28 67.25L166.6 66.99" stroke="#c41e36" stroke-width="1.55" fill="none"/>
<path d="M167.6 76.08L168.4 77.39L169.2 78.11L170 79.11L170.8 79.51L171.6 80.31L172.4 81.15L173.2 82.45L174 83.92L174.8 84.44L175.6 84.94L176.4 85.33L177.2 86.2L178 86.77L178.8 87.26L179.6 87.66L180.4 88.77L181.2 89.65L182 91.02L182.8 91.64L183.6 92.47L184.4 93.84L185.2 94.61L186 95.49L186.8 95.48L187.6 96.25L188.4 96.66L189.2 97.47L190 97.84L190.8 98.41L191.6 99.25L192.4 100.37L193.2 101.38L194 101.76L194.8 102.31L195.6 102.19L196.4 104.06L197.2 105.63L198 107.21L198.8 106.75L199.6 105.61L200.4 105.55L201.2 107.27L202 109L202.8 109.35L203.6 109.7L204.4 110.05L205.2 110.77L206 111.13L206.8 111.26L207.6 112.09L208.4 113.55L209.2 114.06L210 114.02L210.8 113.7L211.6 114L212.4 114.95L213.2 115.68L214 116.39L214.8 116.91L215.6 116.96L216.4 117.79L217.2 118.31L218 119.61L218.8 120.37L219.6 120.86L220.4 121L221.2 121.25L222 122.19L222.8 122.35L223.6 122.83L224.4 123.61L225.2 124.52L226 125.09L226.8 125.1L227.6 125.3L228.4 125.97L229.2 126.52L230 127.35L230.8 127.76L231.6 128.37L232.4 128.3L233.2 128.69L234 128.8L234.8 129.79L235.6 129.93L236.4 130.31L237.2 130.96L238 131.59L238.8 132.18L239.6 132.3L240.4 132.76L241.2 133.26L242 133.15L242.8 133.33L243.6 133.69L244.4 134.93L245.2 135.93L246 136.16L246.8 136.89L247.6 136.97L248.4 137.75L249.2 137.51L250 137.73L250.8 138.38L251.6 138.86L252.4 139.39L253.2 139.71L254 140.6L254.8 140.63L255.6 140.66L256.4 140.6L257.2 141.84L258 142.91L258.8 143.28L259.6 143.28L260.4 143.23L261.2 143.91L262 144.1L262.8 144.46L263.6 144.35L264.4 144.09L265.2 143.87L266 144.47L266.8 145.72L267.6 145.84L268.4 145.67L269.2 145.81L270 145.86L270.8 146.82L271.6 147.44L272.4 147.89L273.2 148.28L274 148.3L274.8 149.78L275.6 149.99L276.4 150.31L277.2 150.3L278 150.8L278.8 151.24L279.6 151.54L280.4 151.24L281.2 151.64L282 151.95L282.8 153.13L283.6 153.31L284.4 153.59L285.2 153.26L286 153.77L286.8 154.04L287.6 154.33L288.4 154.86L289.2 155.68L290 156.05L290.8 155.67L291.6 155.79L292.4 155.99L293.2 157.29L294 157.25L294.8 158.01L295.6 157.23L296.4 157.54L297.2 157.87L298 158.6L298.8 158.76L299.6 159.4L300.4 159.76L301.2 160.12L302 159.6L302.8 159.61L303.6 160.3L304.4 160.53L305.2 160.88L306 160.59L306.8 161.39L307.6 161.6L308.4 162.31L309.2 162.4L310 162.55L310.8 162.77L311.6 163.13L312.4 163.25L313.2 163.51L314 164.45L314.8 164.93L315.6 165.17L316.4 164.14L317.2 164.59L318 164.53L318.8 165.33L319.6 165.44L320.4 165.54L321.2 165.87L322 166.08L322.8 166.36L323.6 166.34L324.4 166.38L325.2 166.99L326 167.2L326.8 167.59L327.6 167.9L328.4 167.82L329.2 168.41L330 167.95L330.8 168.94L331.6 168.96L332.4 169.65L333.2 169.27L334 169.59L334.8 169.85L335.6 170.22L336.4 170.57L337.2 170.73L338 170.94L338.8 171L339.6 171.62L340.4 171.86L341.2 172.01L342 171.96L342.8 172.42L343.6 172.98L344.4 172.94L345.2 172.93L346 172.74L346.8 173.35L347.6 174L348.4 174.22L349.2 174.33L350 174.44L350.8 174.33L351.6 174.28L352.4 174.07L353.2 174.6L354 175.07L354.8 175.25L355.6 175.92L356.4 175.88L357.2 176.16L358 176.19L358.8 176.78L359.6 177.02L360.4 177.04L361.2 177.24L362 177.44L362.8 177.71L363.6 177.45L364.4 177.66L365.2 177.25L366 177.45L366.8 177.32L367.6 178.27L368.4 178.58L369.2 179.14L370 178.76L370.8 179.01L371.6 179.05L372.4 179.25L373.2 179.72L374 179.54L374.8 180.11L375.6 180.77L376.4 181.17L377.2 181.19L378 180.26L378.8 180.65L379.6 180.36L380.4 181.11L381.2 181.17L382 181.31L382.8 180.98L383.6 180.86L384.4 181.45L385.2 182.19L386 182.67L386.8 182.61L387.6 182.33L388.4 182.63L389.2 182.47L390 183.01L390.8 183.26L391.6 183.42L392.4 183.74L393.2 183.36L394 184.12L394.8 184.28L395.6 184.45L396.4 184.18L397.2 183.73L398 184.04L398.8 184.65L399.6 184.97L400.4 185.29L401.2 185.35L402 185.6L402.8 185.67L403.6 186.04L404.4 186.25L405.2 186.36L406 186.92L406.8 186.74L407.6 187.36L408.4 186.83L409.2 187.42L410 187.52L410.8 188.1L411.6 188.53L412.4 188.33L413.2 189.01L414 188.89L414.8 189.05L415.6 188.08L416.4 188.75L417.2 189.55L418 190.06L418.8 189.79L419.6 189.85L420.4 190.03L421.2 189.86L422 189.65L422.8 189.99L423.6 190.25L424.4 190.08L425.2 190.2L426 189.88L426.8 190.15L427.6 190.42L428.4 191.08L429.2 191.48L430 191.32L430.8 191.67L431.6 191.74L432.4 191.33L433.2 191.26L434 190.59L434.8 190.7L435.6 191.19L436.4 192.42L437.2 192.98L438 192.67L438.8 192.55L439.6 193.07L440.4 193.02L441.2 192.9L442 192.59L442.8 192.97L443.6 193.4L444.4 193.6L445.2 193.89L446 193.68L446.8 193.89L447.6 193.63L448.4 193.77L449.2 194.24L450 194.53" stroke="#c41e36" stroke-width="1.55" fill="none"/>
<path d="M166.9 88V100" stroke="#62e4f2" stroke-width="1.6" fill="none"/>
<path d="M166.9 96V128.5" stroke="#5eea2c" stroke-width="1.6" fill="none"/>
<path d="M166.9 67V92.5" stroke="#2068dc" stroke-width="1.6" fill="none"/>
<path d="M166.9 128.5V142" stroke="#d244e2" stroke-width="1.6" fill="none"/>
<path d="M166.9 48V84" stroke="#c41e36" stroke-width="1.6" fill="none"/>
<path d="M166.9 173V197.6" stroke="#f8283a" stroke-width="1.6" fill="none"/>
<path d="M99.5 214L101.7 214L101.3 240L100.8 260.2L100.2 260.2L99.8 240Z" fill="#c0183a"/>
<path d="M106.68 144.12L107.18 139.9L107.68 135.98L108.18 132.35L108.68 128.98L109.18 125.84L109.68 122.92L110.18 120.18L110.68 117.63L111.18 115.24L111.68 112.99L112.48 109.68L113.28 106.67L114.08 103.93L114.88 101.43L115.68 99.13L116.48 97.02L117.28 95.07L118.08 93.28L118.88 91.62L119.68 90.08L120.48 88.66L121.28 87.33L122.08 86.1L122.88 84.95L123.68 83.88L124.48 82.89L125.28 81.96L126.08 81.09L126.88 80.27L127.68 79.51L128.48 78.8L129.28 78.13L130.08 77.51L130.88 76.93L131.68 76.38L132.48 75.87L133.28 75.39L134.08 74.94L134.88 74.52L135.68 74.12L136.48 73.75L137.28 73.4L138.08 73.07L138.88 72.77L139.68 72.48L140.48 72.21L141.28 71.96L142.08 71.72L142.88 71.5L143.68 71.29L144.48 71.09L145.28 70.91L146.08 70.74L146.88 70.58L147.68 70.43L148.48 70.28L149.28 70.15L150.08 70.02L150.88 69.91L151.68 69.8L152.48 69.69L153.28 69.59L154.08 69.5L154.88 69.42L155.68 69.34L156.48 69.26L157.28 69.19L158.08 69.12L158.88 69.06L159.68 69L160.48 68.95L161.28 68.9L162.08 68.85L162.88 68.8L163.68 68.76L164.48 68.72L165.28 68.68L166.08 68.65" stroke="#16161e" stroke-width="1.35" fill="none"/>
<path d="M107.43 148.78L107.93 144.96L108.43 141.43L108.93 138.18L109.43 135.17L109.93 132.36L110.43 129.75L110.93 127.31L111.43 125.01L111.93 122.86L112.43 120.83L112.93 118.92L113.43 117.11L114.23 114.42L115.03 111.94L115.83 109.66L116.63 107.56L117.43 105.61L118.23 103.81L119.03 102.14L119.83 100.59L120.63 99.14L121.43 97.8L122.23 96.56L123.03 95.4L123.83 94.32L124.63 93.31L125.43 92.37L126.23 91.5L127.03 90.69L127.83 89.93L128.63 89.23L129.43 88.57L130.23 87.96L131.03 87.38L131.83 86.85L132.63 86.36L133.43 85.89L134.23 85.46L135.03 85.06L135.83 84.69L136.63 84.34L137.43 84.01L138.23 83.71L139.03 83.42L139.83 83.16L140.63 82.91L141.43 82.69L142.23 82.47L143.03 82.27L143.83 82.09L144.63 81.91L145.43 81.75L146.23 81.6L147.03 81.46L147.83 81.33L148.63 81.21L149.43 81.1L150.23 80.99L151.03 80.89L151.83 80.8L152.63 80.71L153.43 80.64L154.23 80.56L155.03 80.49L155.83 80.43L156.63 80.37L157.43 80.31L158.23 80.26L159.03 80.21L159.83 80.16L160.63 80.12L161.43 80.08L162.23 80.04L163.03 80.01L163.83 79.98L164.63 79.95L165.43 79.92L166.23 79.89" stroke="#16161e" stroke-width="1.35" fill="none"/>
<path d="M104.37 202.15L104.57 198.99L104.77 196.39L104.97 194.23L105.17 192.39L105.37 190.8L105.57 189.39L105.77 188.13L105.97 186.97L106.17 185.89L106.37 184.88L106.57 183.92L106.77 183L106.97 182.11L107.17 181.24L107.37 180.4L107.57 179.57L107.77 178.76L108.27 176.77L108.77 174.85L109.27 172.99L109.77 171.16L110.27 169.38L110.77 167.64L111.27 165.94L111.77 164.28L112.27 162.65L112.77 161.06L113.27 159.51L113.77 157.99L114.57 155.63L115.37 153.35L116.17 151.15L116.97 149.03L117.77 146.99L118.57 145.02L119.37 143.11L120.17 141.28L120.97 139.51L121.77 137.8L122.57 136.15L123.37 134.56L124.17 133.03L124.97 131.55L125.77 130.13L126.57 128.75L127.37 127.42L128.17 126.14L128.97 124.91L129.77 123.71L130.57 122.57L131.37 121.46L132.17 120.39L132.97 119.36L133.77 118.36L134.57 117.4L135.37 116.47L136.17 115.58L136.97 114.72L137.77 113.89L138.57 113.09L139.37 112.31L140.17 111.57L140.97 110.85L141.77 110.15L142.57 109.48L143.37 108.84L144.17 108.21L144.97 107.61L145.77 107.03L146.57 106.47L147.37 105.93L148.17 105.41L148.97 104.91L149.77 104.43L150.57 103.96L151.37 103.51L152.17 103.07L152.97 102.65L153.77 102.25L154.57 101.86L155.37 101.48L156.17 101.12L156.97 100.77L157.77 100.43L158.57 100.1L159.37 99.79L160.17 99.49L160.97 99.19L161.77 98.91L162.57 98.64L163.37 98.38L164.17 98.12L164.97 97.88L165.77 97.64" stroke="#16161e" stroke-width="1.35" fill="none"/>
<path d="M105.05 206.38L105.25 205.62L105.45 204.86L105.65 204.11L106.15 202.26L106.65 200.43L107.15 198.65L107.65 196.89L108.15 195.16L108.65 193.47L109.15 191.81L109.65 190.18L110.15 188.57L110.65 187L111.15 185.46L111.65 183.94L112.45 181.57L113.25 179.27L114.05 177.04L114.85 174.87L115.65 172.77L116.45 170.73L117.25 168.75L118.05 166.82L118.85 164.96L119.65 163.15L120.45 161.39L121.25 159.69L122.05 158.04L122.85 156.44L123.65 154.88L124.45 153.38L125.25 151.92L126.05 150.5L126.85 149.13L127.65 147.8L128.45 146.51L129.25 145.26L130.05 144.05L130.85 142.88L131.65 141.75L132.45 140.65L133.25 139.58L134.05 138.55L134.85 137.56L135.65 136.59L136.45 135.66L137.25 134.76L138.05 133.89L138.85 133.04L139.65 132.23L140.45 131.44L141.25 130.68L142.05 129.94L142.85 129.23L143.65 128.54L144.45 127.88L145.25 127.24L146.05 126.63L146.85 126.03L147.65 125.46L148.45 124.91L149.25 124.38L150.05 123.86L150.85 123.37L151.65 122.9L152.45 122.44L153.25 122L154.05 121.58L154.85 121.18L155.65 120.79L156.45 120.42L157.25 120.06L158.05 119.72L158.85 119.39L159.65 119.08L160.45 118.78L161.25 118.5L162.05 118.23L162.85 117.97L163.65 117.72L164.45 117.48L165.25 117.26L166.05 117.05" stroke="#16161e" stroke-width="1.35" fill="none"/>
<path d="M107.12 206.08L107.62 204.79L108.12 203.52L108.62 202.27L109.12 201.05L109.62 199.84L110.12 198.66L110.62 197.49L111.12 196.35L111.62 195.22L112.12 194.11L112.92 192.38L113.72 190.69L114.52 189.05L115.32 187.45L116.12 185.89L116.92 184.37L117.72 182.88L118.52 181.44L119.32 180.03L120.12 178.66L120.92 177.32L121.72 176.02L122.52 174.75L123.32 173.51L124.12 172.3L124.92 171.12L125.72 169.97L126.52 168.84L127.32 167.75L128.12 166.68L128.92 165.64L129.72 164.63L130.52 163.63L131.32 162.67L132.12 161.72L132.92 160.8L133.72 159.91L134.52 159.03L135.32 158.18L136.12 157.34L136.92 156.53L137.72 155.74L138.52 154.96L139.32 154.21L140.12 153.47L140.92 152.75L141.72 152.05L142.52 151.36L143.32 150.69L144.12 150.04L144.92 149.41L145.72 148.79L146.52 148.18L147.32 147.59L148.12 147.01L148.92 146.45L149.72 145.9L150.52 145.36L151.32 144.84L152.12 144.33L152.92 143.83L153.72 143.35L154.52 142.87L155.32 142.41L156.12 141.96L156.92 141.52L157.72 141.09L158.52 140.67L159.32 140.26L160.12 139.86L160.92 139.47L161.72 139.09L162.52 138.72L163.32 138.36L164.12 138L164.92 137.66L165.72 137.32" stroke="#16161e" stroke-width="1.35" fill="none"/>
<path d="M108.5 216.6L109 216.35L109.5 216.09L110 215.84L110.5 215.58L111 215.33L111.5 215.07L112 214.82L112.8 214.41L113.6 214.01L114.4 213.6L115.2 213.2L116 212.79L116.8 212.39L117.6 211.99L118.4 211.59L119.2 211.19L120 210.79L120.8 210.39L121.6 209.99L122.4 209.59L123.2 209.2L124 208.8L124.8 208.4L125.6 208.01L126.4 207.61L127.2 207.22L128 206.83L128.8 206.43L129.6 206.04L130.4 205.65L131.2 205.26L132 204.87L132.8 204.48L133.6 204.09L134.4 203.71L135.2 203.32L136 202.93L136.8 202.55L137.6 202.16L138.4 201.78L139.2 201.39L140 201.01L140.8 200.62L141.6 200.24L142.4 199.86L143.2 199.48L144 199.1L144.8 198.72L145.6 198.34L146.4 197.96L147.2 197.59L148 197.21L148.8 196.83L149.6 196.46L150.4 196.08L151.2 195.71L152 195.33L152.8 194.96L153.6 194.59L154.4 194.22L155.2 193.84L156 193.47L156.8 193.1L157.6 192.73L158.4 192.36L159.2 192L160 191.63L160.8 191.26L161.6 190.9L162.4 190.53L163.2 190.16L164 189.8L164.8 189.44L165.6 189.07" stroke="#16161e" stroke-width="1.35" fill="none"/>
</g>
</svg>
</body></html>
